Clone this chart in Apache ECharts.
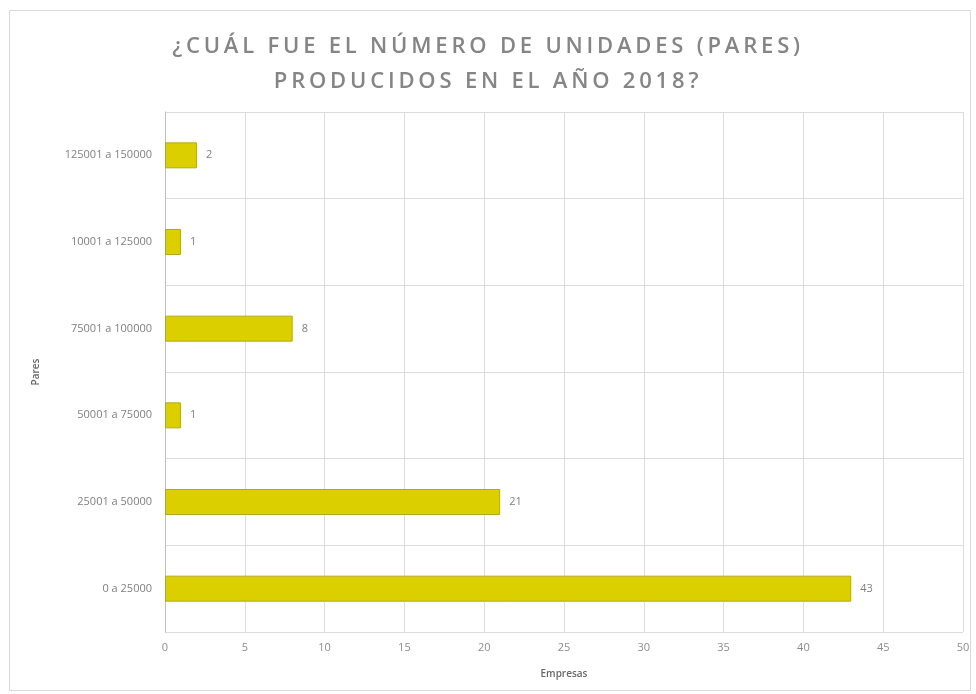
<!DOCTYPE html>
<html><head><meta charset="utf-8">
<script src="https://cdn.jsdelivr.net/npm/echarts@6/dist/echarts.min.js"></script>
<style>html,body{margin:0;padding:0;background:#fff}#c{width:976px;height:694px}</style>
</head><body><div id="c"></div>
<script>
const categories = ['0 a 25000','25001 a 50000','50001 a 75000','75001 a 100000','10001 a 125000','125001 a 150000'];
const empresas = [43, 21, 1, 8, 1, 2];
const xTicks = [0,5,10,15,20,25,30,35,40,45,50];

// wide letter spacing for the title font only (canvas letterSpacing)
(function(){
  const proto = CanvasRenderingContext2D.prototype;
  const d = Object.getOwnPropertyDescriptor(proto, 'font');
  if (d && 'letterSpacing' in proto) {
    Object.defineProperty(proto, 'font', {
      configurable: true,
      get: function(){ return d.get.call(this); },
      set: function(v){ d.set.call(this, v); this.letterSpacing = /22px/.test(v) ? '3.8px' : '0px'; }
    });
  }
})();

const chart = echarts.init(document.getElementById('c'));
chart.setOption({
  backgroundColor: '#ffffff',
  graphic: [{type:'rect', shape:{x:9.5,y:10.5,width:961,height:680}, style:{fill:'none',stroke:'#d9d9d9',lineWidth:1}, silent:true}],
  title: {
    text: '¿CUÁL FUE EL NÚMERO DE UNIDADES (PARES)\nPRODUCIDOS EN EL AÑO 2018?',
    left: 'center', top: 24, padding: [5, 5, 5, 27],
    textStyle: {fontFamily:'Open Sans', fontSize: 22, fontWeight: 600, color:'#858585', lineHeight: 35}
  },
  grid: {left: 165, right: 13, top: 112, bottom: 62, containLabel: false},
  xAxis: {
    type: 'value', min: 0, max: 50, interval: 5,
    name: 'Empresas', nameLocation: 'middle', nameGap: 37,
    nameTextStyle: {fontFamily:'Open Sans', fontSize: 10, fontWeight: 600, color:'#666'},
    axisLine: {show:false}, axisTick:{show:false},
    axisLabel: {fontFamily:'Open Sans', fontSize: 11, color:'#8c8c8c', margin: 10},
    splitLine: {lineStyle:{color:'#dcdcdc', width:1}}
  },
  yAxis: {
    type: 'category', data: categories,
    name: 'Pares', nameLocation: 'middle', nameGap: 124, nameRotate: 90,
    nameTextStyle: {fontFamily:'Open Sans', fontSize: 10, fontWeight: 600, color:'#666'},
    axisLine: {show:true, lineStyle:{color:'#bfbfbf', width:1}},
    axisTick: {show:false},
    axisLabel: {fontFamily:'Open Sans', fontSize: 11, color:'#7f7f7f', margin: 13},
    splitLine: {show:true, lineStyle:{color:'#dcdcdc', width:1}}
  },
  series: [{
    type: 'bar', data: empresas, barWidth: 26,
    itemStyle: {color:'#dccf00', borderColor:'#b3aa1a', borderWidth:1},
    label: {show:true, position:'right', distance: 9, fontFamily:'Open Sans', fontSize: 11, color:'#7f7f7f'},
    animation: false
  }],
  animation: false
});
</script></body></html>
